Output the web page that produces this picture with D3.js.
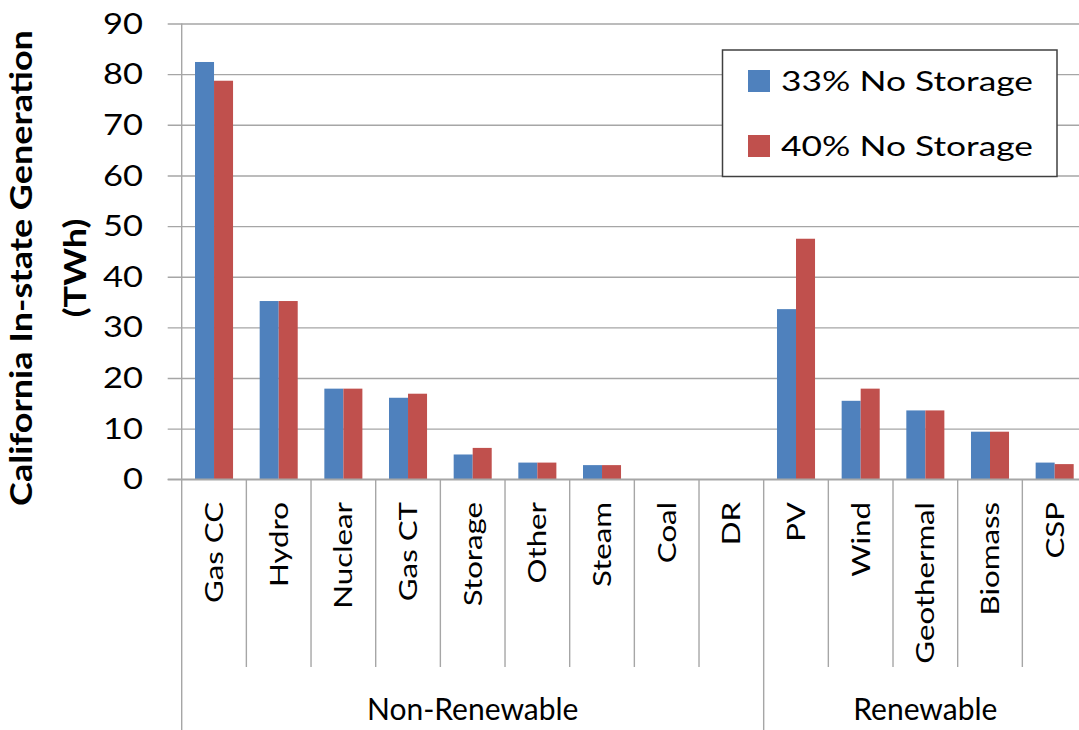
<!DOCTYPE html>
<html>
<head>
<meta charset="utf-8">
<script src="https://cdn.jsdelivr.net/npm/d3@7"></script>
<style>
  html, body { margin: 0; padding: 0; background: #fff; }
  svg { display: block; }
  text { font-family: Lato, "Open Sans", sans-serif; fill: #000; }
</style>
</head>
<body>
<svg id="chart" width="1079" height="730"></svg>
<script>
// Generation by resource type (TWh)
const categories = ["Gas CC", "Hydro", "Nuclear", "Gas CT", "Storage", "Other", "Steam",
                    "Coal", "DR", "PV", "Wind", "Geothermal", "Biomass", "CSP"];
const seriesNames = ["33% No Storage", "40% No Storage"];
const noStorage33 = [82.4, 35.2, 17.9, 16.1, 4.9, 3.3, 2.8, 0, 0, 33.6, 15.5, 13.6, 9.4, 3.3];
const noStorage40 = [78.7, 35.2, 17.9, 16.9, 6.2, 3.3, 2.8, 0, 0, 47.5, 17.9, 13.6, 9.4, 3.0];
const groupNames = ["Non-Renewable", "Renewable"];
const groupMembers = [
  ["Gas CC", "Hydro", "Nuclear", "Gas CT", "Storage", "Other", "Steam", "Coal", "DR"],
  ["PV", "Wind", "Geothermal", "Biomass", "CSP"]
];
const yTicks = [0, 10, 20, 30, 40, 50, 60, 70, 80, 90];
const yTitle = ["California In-state Generation", "(TWh)"];

const colors = ["#4F81BD", "#C0504D"];
const gridColor = "#a6a6a6";

const svg = d3.select("#chart");
const plot = { left: 181.7, right: 1087, top: 23.5, bottom: 479.3 };

// widen glyphs along the text direction
function stretch(sel, f) {
  sel.each(function () {
    const L = this.getComputedTextLength();
    this.setAttribute("textLength", L * f);
    this.setAttribute("lengthAdjust", "spacingAndGlyphs");
  });
}

const x0 = d3.scaleBand().domain(categories).range([plot.left, plot.right]).padding(0);
const x1 = d3.scaleBand().domain(seriesNames).range([0, x0.bandwidth()])
  .paddingInner(0).paddingOuter(0.7);
const y = d3.scaleLinear().domain([0, 90]).range([plot.bottom, plot.top]);

// horizontal gridlines with outer tick marks
const yAxis = d3.axisLeft(y).tickValues(yTicks).tickSize(-(plot.right - plot.left + 14)).tickPadding(0).tickFormat(d3.format("d"));
const gy = svg.append("g").attr("transform", `translate(${plot.left - 14},0)`).call(yAxis);
gy.select(".domain").remove();
gy.selectAll(".tick line").attr("stroke", gridColor).attr("stroke-width", 1.4);
gy.selectAll(".tick text").remove();

// y tick labels
const tickLabels = svg.append("g").selectAll("text").data(yTicks).join("text")
  .attr("x", 143).attr("y", d => y(d)).attr("dy", "0.36em")
  .attr("text-anchor", "end").attr("font-size", 28).attr("fill", "#111")
  .text(d => d);
stretch(tickLabels, 1.23);

// vertical axis line (continues down as the outer group divider)
svg.append("line").attr("x1", plot.left).attr("x2", plot.left)
  .attr("y1", plot.top).attr("y2", 730).attr("stroke", gridColor).attr("stroke-width", 1.4);

// category dividers below the baseline
const boundaries = categories.map(c => x0(c) + x0.bandwidth());
const groupEnds = groupMembers.map(g => x0(g[g.length - 1]) + x0.bandwidth());
svg.append("g").selectAll("line").data(boundaries).join("line")
  .attr("x1", d => d).attr("x2", d => d)
  .attr("y1", plot.bottom).attr("y2", d => groupEnds.some(e => Math.abs(e - d) < 0.5) ? 730 : 667)
  .attr("stroke", gridColor).attr("stroke-width", 1.4);

// bars
const rows = categories.map((c, i) => ({ cat: c, values: [noStorage33[i], noStorage40[i]] }));
const gBars = svg.append("g").selectAll("g").data(rows).join("g")
  .attr("transform", d => `translate(${x0(d.cat)},0)`);
gBars.selectAll("rect").data(d => d.values.map((v, k) => ({ k, v }))).join("rect")
  .attr("x", d => x1(seriesNames[d.k]))
  .attr("width", x1.bandwidth())
  .attr("y", d => y(d.v))
  .attr("height", d => y(0) - y(d.v))
  .attr("fill", d => colors[d.k]);

// baseline
svg.append("line").attr("x1", plot.left - 14).attr("x2", plot.right)
  .attr("y1", plot.bottom).attr("y2", plot.bottom)
  .attr("stroke", gridColor).attr("stroke-width", 1.4);

// rotated category labels
const catLabels = svg.append("g").selectAll("text").data(categories).join("text")
  .attr("transform", d => `translate(${x0(d) + x0.bandwidth() / 2},502) rotate(-90)`)
  .attr("dy", "0.36em").attr("text-anchor", "end").attr("font-size", 25)
  .text(d => d);
stretch(catLabels, 1.25);

// group labels
svg.append("g").selectAll("text").data(groupNames).join("text")
  .attr("x", (d, i) => (x0(groupMembers[i][0]) + groupEnds[i]) / 2)
  .attr("y", 720).attr("text-anchor", "middle").attr("font-size", 30)
  .text(d => d);

// y axis title
const titleLines = svg.append("g").selectAll("text").data(yTitle).join("text")
  .attr("transform", (d, i) => `translate(${i === 0 ? 32 : 86},268) rotate(-90)`)
  .attr("text-anchor", "middle").attr("font-size", 30).attr("font-weight", "bold")
  .text(d => d);
stretch(titleLines, 1.2);

// legend
const legend = svg.append("g");
legend.append("rect").attr("x", 722.5).attr("y", 50).attr("width", 334.5).attr("height", 126.5)
  .attr("fill", "#fff").attr("stroke", "#404040").attr("stroke-width", 1.5);
const items = legend.selectAll("g.item").data(seriesNames).join("g").attr("class", "item")
  .attr("transform", (d, i) => `translate(748,${70 + i * 65})`);
items.append("rect").attr("width", 22).attr("height", 22).attr("fill", (d, i) => colors[i]);
const legendText = items.append("text").attr("x", 33).attr("y", 21).attr("font-size", 27).text(d => d);
stretch(legendText, 1.31);
</script>
</body>
</html>
